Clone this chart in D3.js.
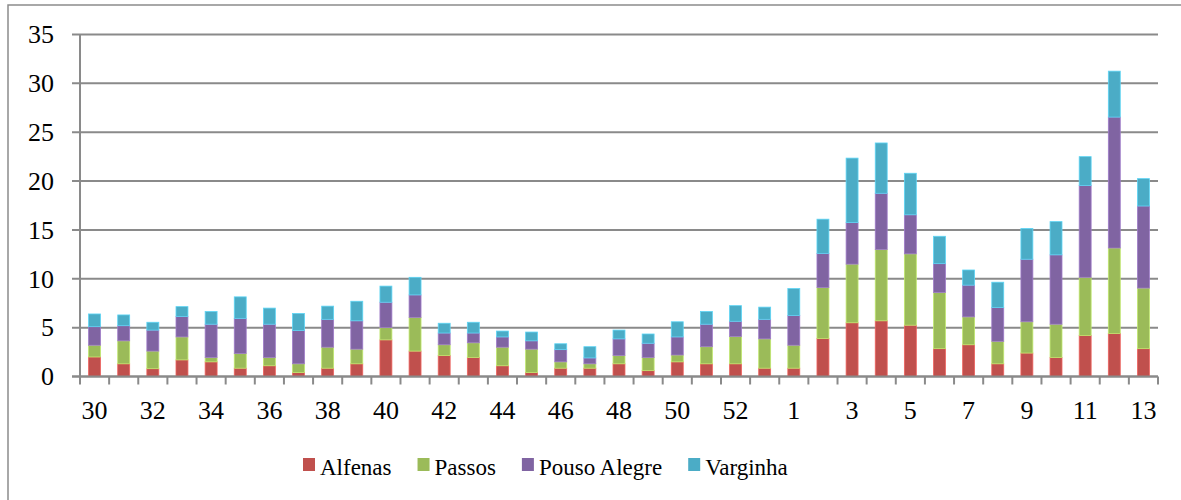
<!DOCTYPE html>
<html>
<head>
<meta charset="utf-8">
<script src="https://cdn.jsdelivr.net/npm/d3@7"></script>
<style>
    body { margin: 0; background: #fff; }
    text { font-family: 'Liberation Serif', 'DejaVu Serif', serif; fill: #000; }
</style>
</head>
<body>
<div id="chart-container"></div>
<script>
// epidemiological weeks (30..53, then 1..13)
const weeks = [30, 31, 32, 33, 34, 35, 36, 37, 38, 39, 40, 41, 42, 43, 44, 45, 46, 47,
    48, 49, 50, 51, 52, 53, 1, 2, 3, 4, 5, 6, 7, 8, 9, 10, 11, 12, 13];

const alfenas = [2.0, 1.3, 0.8, 1.7, 1.5, 0.85, 1.1, 0.4, 0.85, 1.3, 3.75, 2.6, 2.15, 1.95,
    1.1, 0.4, 0.85, 0.85, 1.3, 0.6, 1.5, 1.3, 1.3, 0.85, 0.85, 3.9, 5.5, 5.7, 5.25, 2.85,
    3.25, 1.3, 2.4, 1.95, 4.2, 4.4, 2.85];
const passos = [1.2, 2.35, 1.8, 2.35, 0.45, 1.5, 0.85, 0.9, 2.15, 1.5, 1.25, 3.45, 1.1, 1.5,
    1.9, 2.4, 0.65, 0.45, 0.85, 1.35, 0.7, 1.75, 2.8, 3.0, 2.35, 5.2, 6.0, 7.3, 7.3, 5.75,
    2.85, 2.3, 3.2, 3.4, 5.95, 8.75, 6.2];
const pousoAlegre = [1.9, 1.55, 2.15, 2.1, 3.4, 3.6, 3.4, 3.4, 2.85, 2.9, 2.6, 2.3, 1.2, 1.0,
    1.05, 0.85, 1.25, 0.6, 1.7, 1.45, 1.85, 2.3, 1.55, 2.0, 3.05, 3.5, 4.25, 5.75, 4.0, 2.95,
    3.25, 3.45, 6.4, 7.1, 9.4, 13.4, 8.4];
const varginha = [1.3, 1.1, 0.8, 1.0, 1.3, 2.2, 1.65, 1.75, 1.35, 2.0, 1.65, 1.8, 1.0, 1.1,
    0.6, 0.9, 0.6, 1.15, 0.9, 0.95, 1.55, 1.3, 1.6, 1.25, 2.75, 3.5, 6.6, 5.15, 4.25, 2.8,
    1.55, 2.6, 3.15, 3.4, 2.95, 4.7, 2.8];

const seriesNames = ['Alfenas', 'Passos', 'Pouso Alegre', 'Varginha'];
const seriesColors = ['#C0504D', '#9BBB59', '#8064A2', '#4BACC6'];
const yTicks = [0, 5, 10, 15, 20, 25, 30, 35];

const width = 1181;
const height = 500;
const margin = {top: 34.5, right: 23, bottom: 123.5, left: 80};

// table for d3.stack
const table = weeks.map((w, i) => ({
    key: i,
    week: w,
    'Alfenas': alfenas[i],
    'Passos': passos[i],
    'Pouso Alegre': pousoAlegre[i],
    'Varginha': varginha[i],
}));

const svg = d3.select('#chart-container')
    .append('svg')
    .attr('width', width)
    .attr('height', height);

// outer chart frame (only top and left edges show in the picture)
svg.append('path')
    .attr('d', 'M8,500 V5 H1181')
    .attr('stroke', '#8c8c8c')
    .attr('stroke-width', 1.5)
    .attr('fill', 'none');

const x = d3.scaleBand()
    .domain(table.map((d) => d.key))
    .range([margin.left, width - margin.right])
    .padding(0);

const y = d3.scaleLinear()
    .domain([0, 35])
    .range([height - margin.bottom, margin.top]);

// gridlines + y ticks
svg.append('g')
    .selectAll('line')
    .data(yTicks)
    .join('line')
    .attr('x1', margin.left - 8)
    .attr('x2', width - margin.right)
    .attr('y1', (d) => y(d))
    .attr('y2', (d) => y(d))
    .attr('stroke', '#8a8a8a')
    .attr('stroke-width', 2);

svg.append('g')
    .selectAll('text')
    .data(yTicks)
    .join('text')
    .attr('x', margin.left - 26)
    .attr('y', (d) => y(d))
    .attr('dy', '0.34em')
    .attr('text-anchor', 'end')
    .attr('font-size', 26)
    .text((d) => d);

const stack = d3.stack().keys(seriesNames);
const layers = stack(table);
const barW = x.bandwidth() * 0.41;

svg.append('g')
    .selectAll('g')
    .data(layers)
    .join('g')
    .attr('fill', (d, i) => seriesColors[i])
    .attr('stroke', (d, i) => d3.color(seriesColors[i]).brighter(0.6))
    .attr('stroke-width', 0.8)
    .selectAll('rect')
    .data((d) => d)
    .join('rect')
    .attr('x', (d) => x(d.data.key) + (x.bandwidth() - barW) / 2)
    .attr('y', (d) => y(d[1]))
    .attr('width', barW)
    .attr('height', (d) => y(d[0]) - y(d[1]));

// axes lines
const yBase = y(0);
svg.append('line')
    .attr('x1', margin.left).attr('x2', margin.left)
    .attr('y1', margin.top).attr('y2', yBase)
    .attr('stroke', '#8a8a8a').attr('stroke-width', 2);
svg.append('line')
    .attr('x1', margin.left - 8).attr('x2', width - margin.right)
    .attr('y1', yBase).attr('y2', yBase)
    .attr('stroke', '#8a8a8a').attr('stroke-width', 2);

// x tick marks on band boundaries
const bounds = table.map((d) => x(d.key)).concat([width - margin.right]);
svg.append('g')
    .selectAll('line')
    .data(bounds)
    .join('line')
    .attr('x1', (d) => d).attr('x2', (d) => d)
    .attr('y1', yBase).attr('y2', yBase + 8)
    .attr('stroke', '#8a8a8a')
    .attr('stroke-width', 2);

// every other week label
svg.append('g')
    .selectAll('text')
    .data(table.filter((d, i) => i % 2 === 0))
    .join('text')
    .attr('x', (d) => x(d.key) + x.bandwidth() / 2)
    .attr('y', 419)
    .attr('text-anchor', 'middle')
    .attr('font-size', 26)
    .text((d) => d.week);

// legend
const legend = svg.append('g').attr('transform', 'translate(303, 0)');
let lx = 0;
seriesNames.forEach((name, i) => {
    legend.append('rect')
        .attr('x', lx)
        .attr('y', 458)
        .attr('width', 12)
        .attr('height', 13)
        .attr('fill', seriesColors[i]);
    const t = legend.append('text')
        .attr('x', lx + 17)
        .attr('y', 475)
        .attr('font-size', 23)
        .text(name);
    lx += 17 + t.node().getComputedTextLength() + 26;
});
</script>
</body>
</html>
